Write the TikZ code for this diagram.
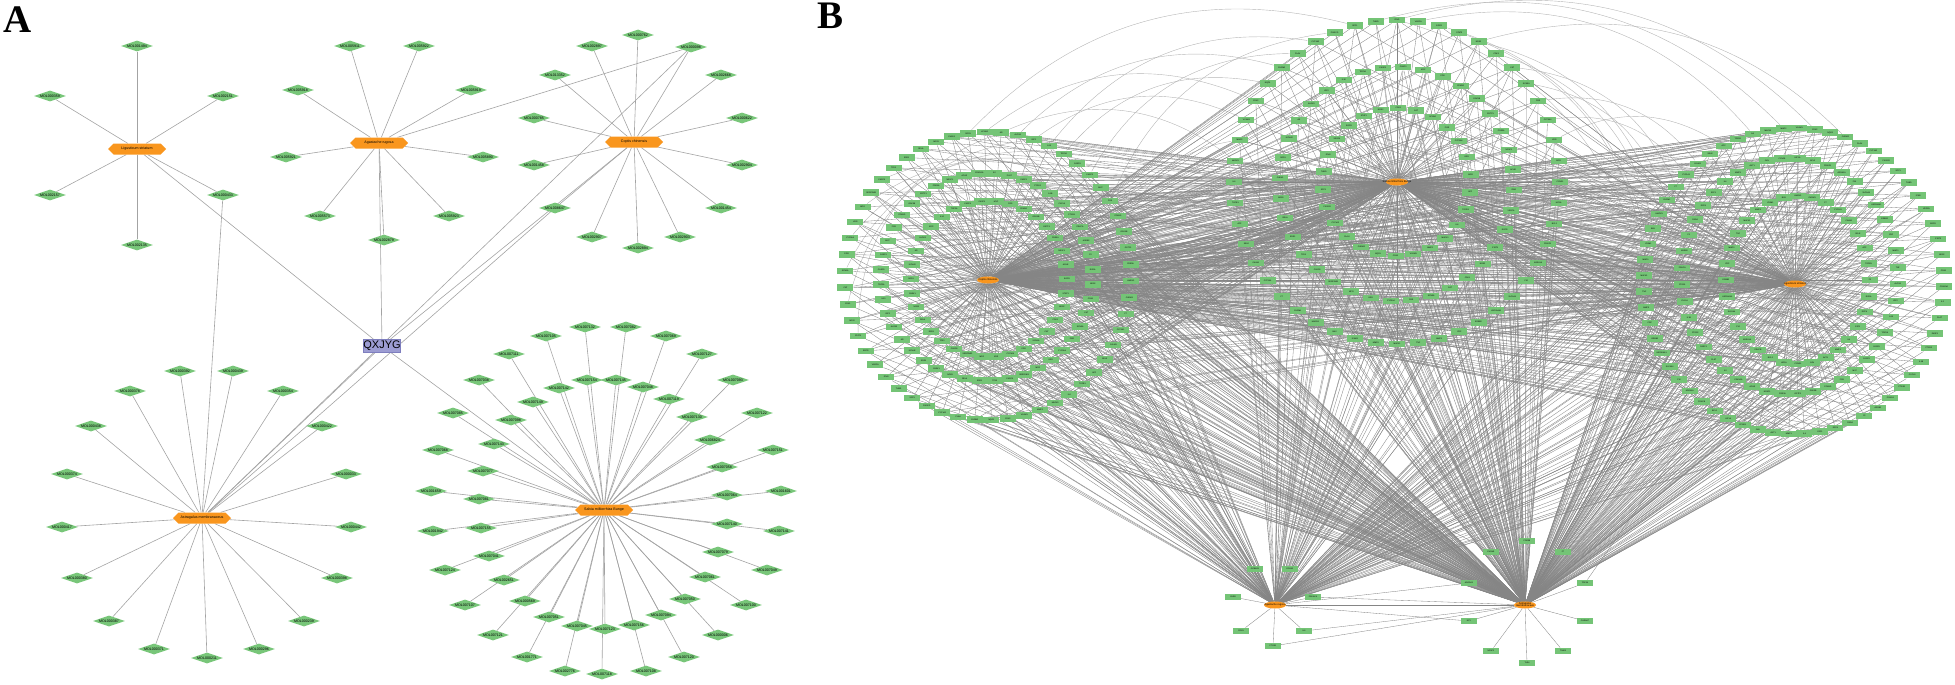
\documentclass[tikz,border=0pt]{standalone}
\usepackage{fontspec}
\setmainfont{Liberation Sans}
\newfontfamily\panelfont{Liberation Serif}
\usetikzlibrary{shapes.geometric,shapes.symbols}
\pgfdeclarelayer{bg}
\pgfsetlayers{bg,main}
\definecolor{molg}{HTML}{78C679}
\definecolor{hubor}{HTML}{F9961E}
\definecolor{qx}{HTML}{9C9CD2}
\definecolor{qxb}{HTML}{7E7EBE}
\definecolor{edgeA}{HTML}{A3A3A3}
\definecolor{edgeB}{HTML}{858585}
\definecolor{edgeC}{HTML}{B5B5B5}
\definecolor{geneg}{HTML}{74C476}
\newcommand\genename[1]{\ifcase#1 AKT1\or TNF\or IL6\or VEGFA\or TP53\or CASP3\or PTGS2\or JUN\or MAPK1\or MAPK3\or
EGFR\or ESR1\or MYC\or IL1B\or CCND1\or MMP9\or MMP2\or STAT3\or RELA\or FOS\or
CXCL8\or HIF1A\or ICAM1\or VCAM1\or NOS2\or NOS3\or PPARG\or PTGS1\or BCL2\or BAX\or
CDK2\or CDK1\or CHEK1\or GSK3B\or PRKCA\or PRKCB\or HMOX1\or NQO1\or CAT\or SOD1\or
GSTP1\or ADRB2\or ADRA1A\or CHRM1\or CHRM2\or SCN5A\or KCNH2\or PDE3A\or F2\or F10\or
F7\or PLAU\or PGR\or AR\or NR3C1\or RXRA\or SLC6A4\or CYP1A1\or CYP1A2\or CYP3A4\or
ALOX5\or ACHE\or DPP4\or HSP90AA1\or CALM1\or PIK3CG\or KDR\or IGF2\or CDKN1A\or E2F1\or
ERBB2\or SELE\or SPP1\or MPO\or IL10\or IL2\or IL4\or CRP\or APP\or THBD\or
SERPINE1\or TOP2A\or PLAT\or MMP1\or MMP3\or TGFB1\or IFNG\or CASP8\or CASP9\or PARP1\fi}
\tikzset{
  mol/.style={diamond, aspect=3, fill=molg, minimum width=32pt, minimum height=11pt, inner sep=0pt,
    font=\fontsize{3.6}{4}\selectfont},
  hexa/.style={signal, signal to=east and west, fill=hubor, minimum width=58pt, minimum height=11pt,
    inner sep=0pt, font=\fontsize{3.6}{4}\selectfont},
  qxbox/.style={rectangle, fill=qx, draw=qxb, line width=0.8pt, minimum width=33pt, minimum height=13pt,
    inner sep=0pt, font=\fontsize{11}{12}\selectfont},
  aedge/.style={draw=edgeA, line width=0.6pt},
  gene/.style={rectangle, fill=geneg, minimum width=16pt, minimum height=6.5pt, inner sep=0.3pt,
    font=\fontsize{2}{2}\selectfont},
  bhub/.style={ellipse, fill=hubor, minimum width=22pt, minimum height=7pt, inner sep=0pt,
    font=\fontsize{2.6}{3}\selectfont},
  bedge/.style={draw=edgeB, line width=0.33pt},
  bcurve/.style={draw=edgeC, line width=0.4pt},
  plabel/.style={font=\panelfont\fontsize{39}{39}\selectfont\bfseries, inner sep=0pt, anchor=base west}
}
\newcommand\M[4]{\node[mol] (#1) at (#2,#3) {\makebox[0pt]{#4}};}
\newcommand\ring[8]{%
  \foreach \i in {1,...,#4}{%
    \pgfmathsetmacro\ang{#7+(360/#4)*(\i-1)}%
    \pgfmathtruncatemacro\k{mod(\i*7+#8,90)}%
    \node[gene] (#1-\i) at ({#2+#5*cos(\ang)},{#3+#6*sin(\ang)}) {\genename{\k}};%
  }}
\newcommand\fan[3]{\foreach \j in {#3}{\draw[bedge] (#1) -- (#2-\j);}}
\begin{document}
\begin{tikzpicture}[x=1pt,y=-1pt]
\useasboundingbox (0,0) rectangle (1955,685);
% ---------------- Panel A ----------------
\node[plabel] (labA) at (3,33) {A};
\node[qxbox] (QX) at (382,346) {QXJYG};
\node[hexa] (LS) at (137,149) {\makebox[0pt]{Ligusticum striatum}};
\node[hexa] (AR) at (379,143) {\makebox[0pt]{Agastache rugosa}};
\node[hexa] (CC) at (634,142) {\makebox[0pt]{Coptis chinensis}};
\node[hexa] (AM) at (202,518) {\makebox[0pt]{Astragalus membranaceus}};
\node[hexa] (SM) at (604,510) {\makebox[0pt]{Salvia miltiorrhiza Bunge}};
% Ligusticum
\M{l1}{137}{46}{MOL001494}\M{l2}{50}{96}{MOL000359}\M{l3}{223}{96}{MOL002151}
\M{l4}{50}{195}{MOL002157}\M{l5}{223}{195}{MOL000433}\M{l6}{137}{245}{MOL002135}
% Agastache
\M{a1}{350}{46}{MOL005911}\M{a2}{419}{46}{MOL005922}\M{a3}{298}{90}{MOL005918}
\M{a4}{471}{90}{MOL005919}\M{a5}{286}{157}{MOL005921}\M{a6}{483}{157}{MOL005890}
\M{a7}{320}{216}{MOL005573}\M{a8}{449}{216}{MOL005923}\M{a9}{384}{240}{MOL002879}
% Coptis
\M{c1}{638}{35}{MOL000762}\M{c2}{592}{46}{MOL002897}\M{c3}{691}{47}{MOL000098}
\M{c4}{555}{75}{MOL013352}\M{c5}{721}{75}{MOL002668}\M{c6}{534}{118}{MOL000785}
\M{c7}{742}{118}{MOL000622}\M{c8}{534}{165}{MOL001458}\M{c9}{742}{165}{MOL002904}
\M{c10}{555}{208}{MOL008647}\M{c11}{721}{208}{MOL001454}\M{c12}{592}{237}{MOL002907}
\M{c13}{680}{237}{MOL002903}\M{c14}{638}{248}{MOL002894}
% Astragalus
\M{m1}{180}{371}{MOL000392}\M{m2}{233}{371}{MOL000439}\M{m3}{130}{391}{MOL000378}
\M{m4}{283}{391}{MOL000354}\M{m5}{91}{426}{MOL000438}\M{m6}{322}{426}{MOL000422}
\M{m7}{67}{474}{MOL000374}\M{m8}{346}{474}{MOL000033}\M{m9}{62}{527}{MOL000417}
\M{m10}{351}{527}{MOL000442}\M{m11}{77}{578}{MOL000380}\M{m12}{337}{578}{MOL000398}
\M{m13}{109}{621}{MOL000387}\M{m14}{304}{621}{MOL000239}\M{m15}{154}{649}{MOL000371}
\M{m16}{259}{649}{MOL000296}\M{m17}{207}{658}{MOL000211}
% Salvia
\M{s1}{585}{327}{MOL007132}\M{s2}{626}{327}{MOL007082}\M{s3}{546}{336}{MOL007105}
\M{s4}{666}{336}{MOL007069}\M{s5}{509}{354}{MOL007111}\M{s6}{702}{354}{MOL007127}
\M{s7}{479}{380}{MOL007038}\M{s8}{733}{380}{MOL007093}\M{s9}{453}{413}{MOL007085}
\M{s10}{757}{413}{MOL007122}\M{s11}{438}{450}{MOL007068}\M{s12}{773}{450}{MOL007151}
\M{s13}{431}{491}{MOL001659}\M{s14}{781}{491}{MOL001601}\M{s15}{433}{531}{MOL001942}
\M{s16}{779}{531}{MOL007141}\M{s17}{445}{570}{MOL007124}\M{s18}{767}{570}{MOL007049}
\M{s19}{465}{605}{MOL007107}\M{s20}{746}{605}{MOL007100}\M{s21}{493}{635}{MOL007121}
\M{s22}{718}{635}{MOL000006}\M{s23}{527}{657}{MOL001771}\M{s24}{684}{657}{MOL007120}
\M{s25}{565}{671}{MOL002776}\M{s26}{646}{671}{MOL007108}\M{s27}{602}{674}{MOL007118}
\M{s28}{587}{380}{MOL007154}\M{s29}{616}{380}{MOL007145}\M{s30}{559}{388}{MOL007142}
\M{s31}{643}{387}{MOL007048}\M{s32}{533}{402}{MOL007149}\M{s33}{669}{399}{MOL007119}
\M{s34}{511}{420}{MOL007098}\M{s35}{692}{417}{MOL007130}\M{s36}{494}{444}{MOL007143}
\M{s37}{710}{440}{MOL006824}\M{s38}{483}{471}{MOL007077}\M{s39}{722}{467}{MOL007058}
\M{s40}{479}{499}{MOL007081}\M{s41}{727}{495}{MOL007064}\M{s42}{481}{528}{MOL007155}
\M{s43}{727}{524}{MOL007140}\M{s44}{489}{556}{MOL007041}\M{s45}{718}{552}{MOL007079}
\M{s46}{504}{580}{MOL002651}\M{s47}{705}{577}{MOL007061}\M{s48}{525}{601}{MOL000569}
\M{s49}{685}{599}{MOL007050}\M{s50}{549}{617}{MOL007051}\M{s51}{661}{615}{MOL007094}
\M{s52}{577}{626}{MOL007045}\M{s53}{634}{625}{MOL007156}\M{s54}{605}{629}{MOL007123}
\begin{pgfonlayer}{bg}
\foreach \t in {l1,l2,l3,l4,l5,l6,QX} \draw[aedge] (LS) -- (\t);
\foreach \t in {a1,a2,a3,a4,a5,a6,a7,a8,a9,c3,QX} \draw[aedge] (AR) -- (\t);
\foreach \t in {1,...,14} \draw[aedge] (CC) -- (c\t);
\draw[aedge] (CC) -- (QX);
\foreach \t in {1,...,17} \draw[aedge] (AM) -- (m\t);
\foreach \t in {l5,c10,c3,QX} \draw[aedge] (AM) -- (\t);
\foreach \t in {1,...,54} \draw[aedge] (SM) -- (s\t);
\draw[aedge] (SM) -- (QX);
\end{pgfonlayer}
% ---------------- Panel B ----------------
\node[plabel] (labB) at (817,29) {B};
\node[bhub] (LH) at (988,280) {\makebox[0pt]{Coptis chinensis}};
\node[bhub] (TH) at (1397,182) {\makebox[0pt]{Salvia miltiorrhiza Bunge}};
\node[bhub] (RH) at (1795,284) {\makebox[0pt]{Ligusticum striatum}};
\node[bhub] (AG) at (1275,605) {\makebox[0pt]{Agastache rugosa}};
\node[bhub, align=center] (AS) at (1525,605) {\makebox[0pt]{Astragalus}\\[-1pt]\makebox[0pt]{membranaceus}};
\ring{L1}{989}{279}{34}{78}{78}{0}{3}
\ring{L2}{987}{277}{44}{106}{104}{4}{17}
\ring{L3}{988}{276}{54}{143}{144}{2}{29}
\ring{R1}{1798}{280}{32}{72}{84}{0}{41}
\ring{R2}{1790}{276}{44}{108}{118}{4}{53}
\ring{R3}{1794}{281}{60}{150}{153}{2}{61}
\ring{T1}{1397}{182}{26}{74}{74}{8}{71}
\ring{T2}{1397}{184}{36}{117}{117}{3}{79}
\ring{T3}{1397}{182}{48}{163}{162}{0}{7}
% bottom nodes
\node[gene] (g1) at (1255,569) {GPBAR1};
\node[gene] (g2) at (1290,569) {EPHX2};
\node[gene] (g3) at (1233,597) {GLRB};
\node[gene] (g4) at (1313,597) {PRKACA};
\node[gene] (g5) at (1241,631) {PON1};
\node[gene] (g6) at (1304,631) {IL6};
\node[gene] (g7) at (1273,646) {PTGS1};
\node[gene] (h1) at (1527,541) {PDE3B};
\node[gene] (h2) at (1491,552) {CHRM1};
\node[gene] (h3) at (1563,552) {F7};
\node[gene] (h4) at (1469,583) {ADORA1};
\node[gene] (h5) at (1585,583) {TOP2A};
\node[gene] (h6) at (1469,621) {NPY};
\node[gene] (h7) at (1585,621) {CHRNA7};
\node[gene] (h8) at (1491,651) {NR3C2};
\node[gene] (h9) at (1563,651) {TNNI3};
\node[gene] (h10) at (1527,663) {TLR4};
\begin{pgfonlayer}{bg}
% curved links between outer rings
\foreach \a/\b in {37/31,39/33,41/35,43/37,45/39,47/41,38/43,40/32,42/34,44/36,46/38,36/45,37/47,41/49}
  \draw[bcurve] (T3-\a) to[bend left=30] (R3-\b);
\foreach \a/\b in {42/26,44/28,46/30,48/32,50/34,52/27,41/29,43/31,45/33,40/35}
  \draw[bcurve] (L3-\a) to[bend left=30] (T3-\b);
\foreach \a/\b in {24/42,26/44,28/46,30/48,32/50,34/52}
  \draw[bcurve] (L3-\a) to[bend left=35] (L3-\b);
% hub fans
\fan{LH}{L1}{1,...,34}\fan{LH}{L2}{1,...,44}\fan{LH}{L3}{1,...,54}
\fan{RH}{R1}{1,...,32}\fan{RH}{R2}{1,...,44}\fan{RH}{R3}{1,...,60}
\fan{TH}{T1}{1,...,26}\fan{TH}{T2}{1,...,36}\fan{TH}{T3}{1,...,48}
\fan{LH}{R1}{1,...,32}\fan{LH}{R2}{1,...,44}\fan{LH}{R3}{1,...,60}
\fan{LH}{T1}{1,...,26}\fan{LH}{T2}{1,...,36}\fan{LH}{T3}{1,...,48}
\fan{TH}{L1}{1,...,34}\fan{TH}{L2}{1,...,44}\fan{TH}{L3}{1,...,54}
\fan{TH}{R1}{1,...,32}\fan{TH}{R2}{1,...,44}\fan{TH}{R3}{1,...,60}
\fan{RH}{L1}{1,3,...,33}\fan{RH}{L2}{2,4,...,44}\fan{RH}{L3}{1,3,...,53}
\fan{RH}{T1}{1,3,...,25}\fan{RH}{T2}{2,4,...,36}\fan{RH}{T3}{1,3,...,47}
\fan{AG}{L1}{1,3,...,33}\fan{AG}{L2}{2,4,...,44}\fan{AG}{L3}{1,3,...,53}
\fan{AG}{R1}{2,4,...,32}\fan{AG}{R2}{1,3,...,43}\fan{AG}{R3}{2,4,...,60}
\fan{AG}{T1}{1,3,...,25}\fan{AG}{T2}{2,4,...,36}\fan{AG}{T3}{1,3,...,47}
\fan{AS}{L1}{1,...,34}\fan{AS}{L2}{1,...,44}\fan{AS}{L3}{1,...,54}
\fan{AS}{R1}{1,...,32}\fan{AS}{R2}{1,...,44}\fan{AS}{R3}{1,...,60}
\fan{AS}{T1}{1,...,26}\fan{AS}{T2}{1,...,36}\fan{AS}{T3}{1,...,48}
\foreach \t in {1,...,7} \draw[bedge] (AG) -- (g\t);
\foreach \t in {1,...,10} \draw[bedge] (AS) -- (h\t);
\draw[bedge] (AS) -- (g6); \draw[bedge] (AS) -- (g7); \draw[bedge] (AS) -- (g4);
\draw[bedge] (AG) -- (h4); \draw[bedge] (AG) -- (h6);
\draw[bedge] (TH) -- (h1); \draw[bedge] (LH) -- (h2); \draw[bedge] (RH) -- (h5);
\draw[bedge] (AG) -- (AS);
\end{pgfonlayer}
\end{tikzpicture}
\end{document}
